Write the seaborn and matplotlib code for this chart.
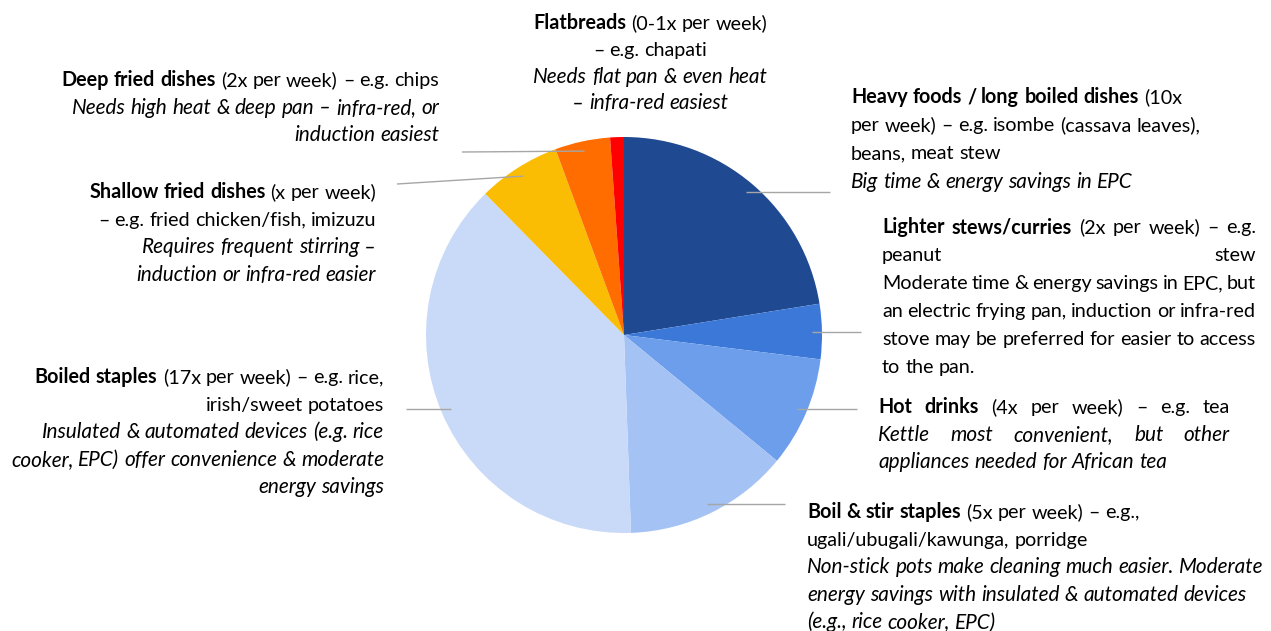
import matplotlib
matplotlib.use("Agg")
import matplotlib.pyplot as plt
import seaborn as sns
import numpy as np
from matplotlib.transforms import Affine2D

# ---------------- data ----------------
categories = ["Heavy foods / long boiled dishes", "Lighter stews/curries", "Hot drinks",
              "Boil & stir staples", "Boiled staples", "Shallow fried dishes",
              "Deep fried dishes", "Flatbreads"]
times_per_week = [10, 2, 4, 6, 17, 3, 2, 0.5]
slice_colors = ["#1f4a91", "#3c78d8", "#6d9eeb", "#a4c2f4", "#c9daf8",
                "#fbbc04", "#ff6d01", "#ff0000"]

heavy_text = [[("Heavy foods / long boiled dishes", "b"), (" (10x", "r")],
              [("per week) – e.g. isombe (cassava leaves),", "r")],
              [("beans, meat stew", "r")],
              [("Big time & energy savings in EPC", "i")]]
lighter_text = [[("Lighter stews/curries", "b"), (" (2x per week) – e.g.", "r")],
                [("peanut stew", "r")],
                [("Moderate time & energy savings in EPC, but", "r")],
                [("an electric frying pan, induction or infra-red", "r")],
                [("stove may be preferred for easier to access", "r")],
                [("to the pan.", "r")]]
hot_text = [[("Hot drinks", "b"), (" (4x per week) – e.g. tea", "r")],
            [("Kettle most convenient, but other", "i")],
            [("appliances needed for African tea", "i")]]
boilstir_text = [[("Boil & stir staples", "b"), (" (5x per week) – e.g.,", "r")],
                 [("ugali/ubugali/kawunga, porridge", "r")],
                 [("Non-stick pots make cleaning much easier. Moderate", "i")],
                 [("energy savings with insulated & automated devices", "i")],
                 [("(e.g., rice cooker, EPC)", "i")]]
boiled_text = [[("Boiled staples", "b"), (" (17x per week) – e.g. rice,", "r")],
               [("irish/sweet potatoes", "r")],
               [("Insulated & automated devices (e.g. rice", "i")],
               [("cooker, EPC) offer convenience & moderate", "i")],
               [("energy savings", "i")]]
shallow_text = [[("Shallow fried dishes", "b"), (" (x per week)", "r")],
                [("– e.g. fried chicken/fish, imizuzu", "r")],
                [("Requires frequent stirring –", "i")],
                [("induction or infra-red easier", "i")]]
deep_text = [[("Deep fried dishes", "b"), (" (2x per week) – e.g. chips", "r")],
             [("Needs high heat & deep pan – infra-red, or", "i")],
             [("induction easiest", "i")]]
flat_text = [[("Flatbreads", "b"), (" (0-1x per week)", "r")],
             [("– e.g. chapati", "r")],
             [("Needs flat pan & even heat", "i")],
             [("– infra-red easiest", "i")]]

# ---------------- figure ----------------
sns.set_theme(style="white")
plt.rcParams["font.family"] = ["Lato", "DejaVu Sans"]

W, H = 1271, 631
fig = plt.figure(figsize=(W / 100, H / 100), dpi=100)
fig.patch.set_facecolor("white")
pix = Affine2D().scale(1, -1).translate(0, H)   # top-left pixel coords

CX, CY, R = 624, 335, 198
ax = fig.add_axes([(CX - R) / W, (H - CY - R) / H, 2 * R / W, 2 * R / H])
ax.pie(times_per_week, colors=slice_colors, startangle=90, counterclock=False,
       radius=1, wedgeprops=dict(linewidth=0))
ax.set_xlim(-1, 1)
ax.set_ylim(-1, 1)
ax.set_axis_off()

# leader lines
fr = np.array(times_per_week, dtype=float) / np.sum(times_per_week)
starts = np.concatenate([[0], np.cumsum(fr)[:-1]])
mids = np.deg2rad(90 - 360 * (starts + fr / 2))
outer = [(830, None), (861, None), (857, None), (785, None), (406, None),
         (397, 184), (462, 152), None]
for m, o in zip(mids, outer):
    if o is None:
        continue
    xi, yi = 0.95 * np.cos(m), 0.95 * np.sin(m)
    ox = (o[0] - CX) / R
    oy = yi if o[1] is None else (CY - o[1]) / R
    ax.plot([xi, ox], [yi, oy], color="#a6a6a6", lw=1.0, clip_on=False,
            solid_capstyle="butt")

# ---------------- text helpers ----------------
FS = 14.2
renderer = fig.canvas.get_renderer()
STY = {"b": dict(fontweight="bold", fontsize=FS),
       "r": dict(fontsize=FS),
       "i": dict(fontstyle="italic", fontsize=FS * 1.05)}


def measure(s, st):
    t = fig.text(0, 0, s, transform=pix, **STY[st])
    w = t.get_window_extent(renderer).width
    t.remove()
    return w


SPACE = measure("a a", "r") - measure("aa", "r")


def draw_line(runs, x, yb, align="left", width=None, justify=False, color="#000000"):
    tokens = []
    pending = False
    for text, st in runs:
        parts = text.split(" ")
        for i, p in enumerate(parts):
            if i > 0:
                pending = True
            if p:
                tokens.append([p, st, pending and len(tokens) > 0])
                pending = False
    arts = []
    for tk in tokens:
        t = fig.text(0, yb, tk[0], transform=pix, va="baseline",
                     ha="left", color=color, **STY[tk[1]])
        arts.append((t, t.get_window_extent(renderer).width, tk[2]))
    nsp = sum(1 for a in arts if a[2])
    total_w = sum(a[1] for a in arts)
    gap = SPACE
    if justify and nsp > 0:
        gap = (width - total_w) / nsp
    natural = total_w + gap * nsp
    if align == "left":
        x0 = x
    elif align == "right":
        x0 = x - natural
    else:
        x0 = x - natural / 2
    cur = x0
    for t, w, sp in arts:
        if sp:
            cur += gap
        t.set_position((cur, yb))
        cur += w


def draw_block(lines, x, y0, align="left", lh=27.6, width=None, justify=False):
    for k, ln in enumerate(lines):
        last = k == len(lines) - 1
        draw_line(ln, x, y0 + k * lh, align=align, width=width,
                  justify=justify and not last)


draw_block(flat_text, 650, 29, align="center", lh=26.8)
draw_block(deep_text, 439, 86, align="right")
draw_block(shallow_text, 376, 198, align="right")
draw_block(heavy_text, 851, 103, align="left", lh=28.2)
draw_block(lighter_text, 882, 233, align="left", width=374, justify=True, lh=28.0)
draw_block(hot_text, 878, 413, align="left", width=352, justify=True)
draw_block(boilstir_text, 807, 518, align="left")
draw_block(boiled_text, 384, 383, align="right")

fig.savefig("out.png", dpi=100, facecolor="white")
